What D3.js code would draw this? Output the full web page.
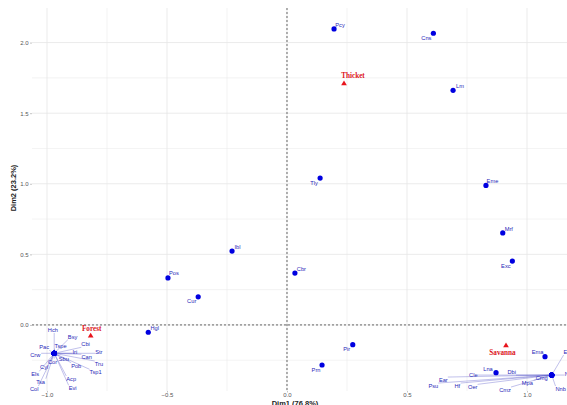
<!DOCTYPE html>
<html>
<head>
<meta charset="utf-8">
<script src="https://cdn.jsdelivr.net/npm/d3@7"></script>
<style>
  html, body { margin: 0; padding: 0; background: #ffffff; }
  svg { display: block; }
</style>
</head>
<body>
<svg id="chart" width="567" height="405"></svg>
<script>
// Correspondence analysis biplot: species (columns) and habitats (rows)

// Species coordinates on the first two dimensions
const speciesNames = [
  "Pcy", "Cns", "Lm", "Tly", "Eme", "Mrf", "Exc", "Ibl", "Pos", "Cur",
  "Cbr", "Hgl", "Pir", "Prn", "Ema", "Lna",
  // species restricted to forest
  "Hch", "Bsy", "Tspe", "Pac", "Cbi", "Crw", "Iri", "Str", "Can", "Cor",
  "Sbu", "Tru", "Pob", "Cyl", "Tsp1", "Els", "Acp", "Tsa", "Evi", "Col",
  // species restricted to savanna
  "Ele", "Cle", "Dbi", "Cmg", "Ear", "Psu", "Hf", "Oer", "Mpa", "Cmz", "Nko", "Nnb"
];
const speciesDim1 = [
  0.196, 0.610, 0.692, 0.138, 0.829, 0.899, 0.939, -0.229, -0.496, -0.370,
  0.033, -0.578, 0.274, 0.146, 1.075, 0.871,
  -0.970, -0.970, -0.970, -0.970, -0.970, -0.970, -0.970, -0.970, -0.970, -0.970,
  -0.970, -0.970, -0.970, -0.970, -0.970, -0.970, -0.970, -0.970, -0.970, -0.970,
  1.103, 1.103, 1.103, 1.103, 1.103, 1.103, 1.103, 1.103, 1.103, 1.103, 1.103, 1.103
];
const speciesDim2 = [
  2.097, 2.066, 1.662, 1.040, 0.988, 0.652, 0.452, 0.523, 0.333, 0.199,
  0.367, -0.052, -0.140, -0.284, -0.225, -0.338,
  -0.201, -0.201, -0.201, -0.201, -0.201, -0.201, -0.201, -0.201, -0.201, -0.201,
  -0.201, -0.201, -0.201, -0.201, -0.201, -0.201, -0.201, -0.201, -0.201, -0.201,
  -0.355, -0.355, -0.355, -0.355, -0.355, -0.355, -0.355, -0.355, -0.355, -0.355, -0.355, -0.355
];

// Habitat coordinates
const habitatNames = ["Forest", "Thicket", "Savanna"];
const habitatDim1 = [-0.818, 0.2375, 0.9125];
const habitatDim2 = [-0.078, 1.709, -0.147];

// Axis ticks and titles
const xTicks = [-1.0, -0.5, 0.0, 0.5, 1.0];
const yTicks = [0.0, 0.5, 1.0, 1.5, 2.0];
const xTitle = "Dim1 (76.8%)";
const yTitle = "Dim2 (23.2%)";

// Repelled label placement (pixel offsets of label centre from its point)
const labelOffset = {
  Pcy: [6, -4], Cns: [-7, 5], Lm: [7, -4], Tly: [-6, 5], Eme: [6.5, -4],
  Mrf: [6, -4], Exc: [-6.5, 5], Ibl: [5.5, -4], Pos: [6, -4.5], Cur: [-6.5, 4.5],
  Cbr: [6.5, -4], Hgl: [6.5, -4.5], Pir: [-6, 4.5], Prn: [-6, 4.5], Ema: [-7.5, -4.5],
  Lna: [-8, -4],
  Hch: [-1.3, -23.3], Bsy: [18.4, -16.6], Tspe: [6.4, -7.6], Pac: [-10, -6],
  Cbi: [31.4, -9], Crw: [-19, 1.4], Iri: [20.7, -1], Str: [44.7, -1], Can: [32.4, 4],
  Cor: [-1.6, 8.4], Sbu: [9.7, 5.7], Tru: [44.7, 10.7], Pob: [22, 12.4], Cyl: [-10, 14],
  Tsp1: [41.4, 19], Els: [-19, 21], Acp: [17, 25.7], Tsa: [-13.6, 28.4], Evi: [18.4, 35],
  Col: [-20, 35.7],
  Ele: [16, -23], Cle: [-78.4, 0], Dbi: [-40, -2.7], Cmg: [-10, 2.7], Ear: [-108.4, 5],
  Psu: [-118.4, 11], Hf: [-94.4, 11], Oer: [-79, 12.3], Mpa: [-24.4, 8.3], Cmz: [-46.7, 15],
  Nko: [18, -1], Nnb: [9, 14],
  Forest: [1, -6.5], Thicket: [9, -8], Savanna: [-3.5, 7.5]
};

const W = 567, H = 405;
const panel = { left: 32, right: 567, top: 8, bottom: 391 };

const x = d3.scaleLinear().domain([-1.0625, 1.1667]).range([panel.left, panel.right]);
const y = d3.scaleLinear().domain([-0.468, 2.245]).range([panel.bottom, panel.top]);

const svg = d3.select("#chart");

// Grid: major every 0.5, minor every 0.25
const gridX = d3.range(-1.0, 1.01, 0.25);
const gridY = d3.range(-0.25, 2.01, 0.25);
const isMajor = d => Math.abs(d * 2 - Math.round(d * 2)) < 1e-6;
const grid = svg.append("g");
grid.selectAll("line.gx").data(gridX).join("line")
  .attr("x1", d => x(d)).attr("x2", d => x(d))
  .attr("y1", panel.top).attr("y2", panel.bottom)
  .attr("stroke", "#e6e6e6")
  .attr("stroke-width", d => isMajor(d) ? 0.8 : 0.5);
grid.selectAll("line.gy").data(gridY).join("line")
  .attr("y1", d => y(d)).attr("y2", d => y(d))
  .attr("x1", panel.left).attr("x2", panel.right)
  .attr("stroke", "#e6e6e6")
  .attr("stroke-width", d => isMajor(d) ? 0.8 : 0.5);

// Reference lines through the origin
svg.append("line")
  .attr("x1", x(0)).attr("x2", x(0)).attr("y1", panel.top).attr("y2", panel.bottom)
  .attr("stroke", "#444").attr("stroke-width", 0.8).attr("stroke-dasharray", "2,2");
svg.append("line")
  .attr("y1", y(0)).attr("y2", y(0)).attr("x1", panel.left).attr("x2", panel.right)
  .attr("stroke", "#444").attr("stroke-width", 0.8).attr("stroke-dasharray", "2,2");

// Axes
const fmt = d3.format(".1f");
const xAxis = svg.append("g")
  .attr("transform", `translate(0,${panel.bottom})`)
  .call(d3.axisBottom(x).tickValues(xTicks).tickFormat(fmt).tickSize(1.5).tickPadding(0.5));
const yAxis = svg.append("g")
  .attr("transform", `translate(${panel.left},0)`)
  .call(d3.axisLeft(y).tickValues(yTicks).tickFormat(fmt).tickSize(2).tickPadding(1.5));
[xAxis, yAxis].forEach(a => {
  a.select(".domain").remove();
  a.selectAll(".tick line").attr("stroke", "#8a8a8a").attr("stroke-width", 0.5);
  a.selectAll(".tick text")
    .attr("fill", "#555")
    .style("font-family", "'Liberation Sans', Arial, sans-serif")
    .style("font-size", "6px");
});

svg.append("text")
  .attr("x", 295).attr("y", 405.5)
  .attr("text-anchor", "middle")
  .style("font-family", "'Liberation Sans', Arial, sans-serif")
  .style("font-size", "7.5px").style("font-weight", "bold")
  .attr("fill", "#222")
  .text(xTitle);
svg.append("text")
  .attr("transform", `translate(16,${188}) rotate(-90)`)
  .attr("text-anchor", "middle")
  .style("font-family", "'Liberation Sans', Arial, sans-serif")
  .style("font-size", "7.5px").style("font-weight", "bold")
  .attr("fill", "#222")
  .text(yTitle);

// Build point/label records from the data arrays
const species = speciesNames.map((n, i) => ({ name: n, px: x(speciesDim1[i]), py: y(speciesDim2[i]) }));
const habitats = habitatNames.map((n, i) => ({ name: n, px: x(habitatDim1[i]), py: y(habitatDim2[i]) }));

const segLayer = svg.append("g");

// Species points
svg.append("g").selectAll("circle").data(species).join("circle")
  .attr("cx", d => d.px).attr("cy", d => d.py).attr("r", 2.6)
  .attr("fill", "#0000e0");

// Habitat triangles
svg.append("g").selectAll("path").data(habitats).join("path")
  .attr("transform", d => `translate(${d.px},${d.py})`)
  .attr("d", d3.symbol(d3.symbolTriangle, 14))
  .attr("fill", "#e8141c");

const labelLayer = svg.append("g");

function placeLabels(records, opts) {
  records.forEach(r => {
    const off = labelOffset[r.name] || [0, 0];
    const t = labelLayer.append("text")
      .attr("x", r.px + off[0]).attr("y", r.py + off[1])
      .attr("text-anchor", "middle")
      .attr("dominant-baseline", "central")
      .style("font-family", opts.font)
      .style("font-size", opts.size)
      .style("font-weight", opts.weight)
      .attr("fill", opts.color)
      .text(r.name);
    // Leader segment from the point to the nearest edge of the label box
    const b = t.node().getBBox();
    const cx = Math.max(b.x, Math.min(r.px, b.x + b.width));
    const cy = Math.max(b.y, Math.min(r.py, b.y + b.height));
    const len = Math.hypot(cx - r.px, cy - r.py);
    if (len > 4) {
      segLayer.append("line")
        .attr("x1", r.px).attr("y1", r.py).attr("x2", cx).attr("y2", cy)
        .attr("stroke", opts.segColor).attr("stroke-width", 0.6).attr("stroke-opacity", 0.6);
    }
  });
}

placeLabels(species, {
  font: "'Liberation Sans', Arial, sans-serif", size: "5.7px", weight: "normal",
  color: "#2626b8", segColor: "#5050c8"
});
placeLabels(habitats, {
  font: "'Liberation Serif', 'Times New Roman', serif", size: "7.2px", weight: "bold",
  color: "#dc141c", segColor: "#dc141c"
});
</script>
</body>
</html>
